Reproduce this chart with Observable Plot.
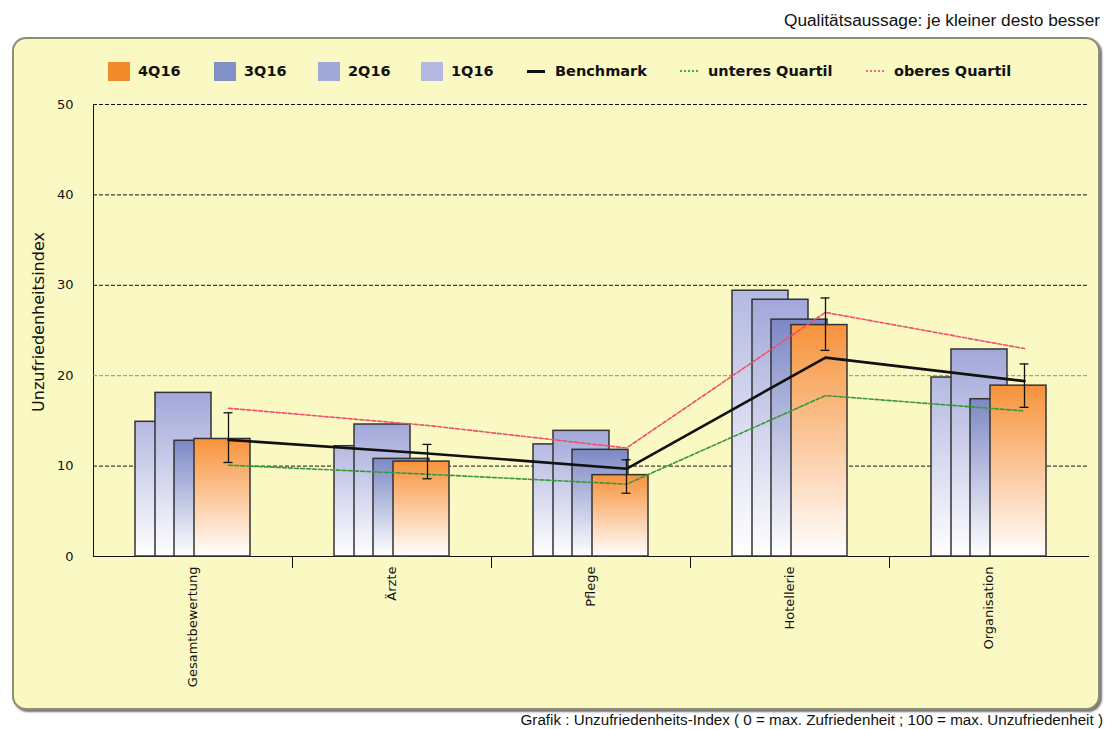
<!DOCTYPE html>
<html><head><meta charset="utf-8">
<script src="https://cdn.jsdelivr.net/npm/d3@7"></script>
<script src="https://cdn.jsdelivr.net/npm/@observablehq/plot@0.6"></script>
<style>
body{margin:0;background:#fff;width:1110px;height:729px;position:relative;overflow:hidden;font-family:"Liberation Sans",Arial,sans-serif}
#title{position:absolute;right:10px;top:10px;font-size:17.3px;color:#111;white-space:nowrap}
#caption{position:absolute;right:7px;top:711px;font-size:15.2px;color:#111;white-space:nowrap}
#frame{position:absolute;left:12px;top:37px;width:1088px;height:673px;box-sizing:border-box;background:#fbf9c3;border:2px solid #8e8e72;border-radius:14px;box-shadow:2px 2px 2px rgba(0,0,0,.55)}
#chart{position:absolute;left:12px;top:88px}
#ylabel{position:absolute;left:38px;top:322px;transform:translate(-50%,-50%) rotate(-90deg);font:16px "DejaVu Sans",sans-serif;color:#111;white-space:nowrap}
.leg{position:absolute;top:61px;height:20px;display:flex;align-items:center;font:bold 14.5px "DejaVu Sans",sans-serif;color:#111;white-space:nowrap}
.sw{width:22px;height:19px;margin-right:8px}
.ln{width:18px;height:0;margin-right:10px}
</style></head>
<body>
<div id="title">Qualitätsaussage: je kleiner desto besser</div>
<div id="frame"></div>
<div id="legend"></div>
<div id="ylabel">Unzufriedenheitsindex</div>
<div id="chart"></div>
<div id="caption">Grafik : Unzufriedenheits-Index ( 0 = max. Zufriedenheit ; 100 = max. Unzufriedenheit )</div>
<script>
const categories = ["Gesamtbewertung", "Ärzte", "Pflege", "Hotellerie", "Organisation"];
const series = ["1Q16", "2Q16", "3Q16", "4Q16"];
const v1Q16 = [14.9, 12.2, 12.4, 29.4, 19.8];
const v2Q16 = [18.1, 14.6, 13.9, 28.4, 22.9];
const v3Q16 = [12.8, 10.8, 11.8, 26.2, 17.4];
const v4Q16 = [13.0, 10.5, 9.0, 25.6, 18.9];
const benchmark = [12.9, 11.4, 9.7, 22.0, 19.4];
const unteresQuartil = [10.1, 9.1, 8.0, 17.8, 16.1];
const oberesQuartil = [16.4, 14.5, 12.0, 27.0, 23.0];
const errLow = [10.4, 8.6, 7.0, 22.8, 16.5];
const errHigh = [15.9, 12.4, 10.7, 28.6, 21.3];
const yTicks = [0, 10, 20, 30, 40, 50];
const seriesValues = [v1Q16, v2Q16, v3Q16, v4Q16];
const seriesColors = ["#b4b9e1", "#a1a7d9", "#7c88c5", "#f7923a"];
const legendColors = {"1Q16": "#b5b9e2", "2Q16": "#a2a8d8", "3Q16": "#8290c8", "4Q16": "#f08a2a"};

// layout
const W = 1088, H = 620, mL = 81, mR = 12, mT = 16, mB = 152;
const bw = (W - mL - mR) / categories.length;
const barOffsets = [42, 62, 81, 101], barW = 56, lineOff = 135, capHalf = 4.5;
const dxLine = lineOff - bw / 2;

const marks = [];
marks.push(Plot.ruleY(yTicks.filter(t => t > 0 && t !== 20), {stroke: "#111", strokeDasharray: "4,2", strokeWidth: 1}));
marks.push(Plot.ruleY(yTicks.filter(t => t === 20), {stroke: "#8a8a80", strokeDasharray: "4,2", strokeWidth: 1}));
series.forEach((s, k) => {
  const rows = categories.map((c, i) => ({category: c, value: seriesValues[k][i]}));
  marks.push(Plot.barY(rows, {
    x: "category", y: "value", fill: `url(#grad${k})`, stroke: "#333", strokeWidth: 1.5,
    insetLeft: barOffsets[k], insetRight: bw - barOffsets[k] - barW
  }));
});
const pts = categories.map((c, i) => ({category: c, b: benchmark[i], u: unteresQuartil[i], o: oberesQuartil[i], lo: errLow[i], hi: errHigh[i]}));
marks.push(Plot.line(pts, {x: "category", y: "u", dx: dxLine, stroke: "#3a963a", strokeWidth: 1.6, strokeDasharray: "4,2"}));
marks.push(Plot.line(pts, {x: "category", y: "o", dx: dxLine, stroke: "#ee4f6a", strokeWidth: 1.6, strokeDasharray: "4,2"}));
marks.push(Plot.line(pts, {x: "category", y: "b", dx: dxLine, stroke: "#111", strokeWidth: 2.6}));
marks.push(Plot.ruleX(pts, {x: "category", y1: "lo", y2: "hi", dx: dxLine, stroke: "#111", strokeWidth: 1.3}));
marks.push(Plot.tickY(pts, {x: "category", y: "hi", stroke: "#111", strokeWidth: 1.3, insetLeft: lineOff - capHalf, insetRight: bw - lineOff - capHalf}));
marks.push(Plot.tickY(pts, {x: "category", y: "lo", stroke: "#111", strokeWidth: 1.3, insetLeft: lineOff - capHalf, insetRight: bw - lineOff - capHalf}));
// category boundary ticks
marks.push(Plot.ruleX(categories.slice(1), {x: d => d, y1: 0, y2: 0, dx: -bw / 2, insetBottom: -12, stroke: "#111", strokeWidth: 1}));

const chart = Plot.plot({
  width: W, height: H, marginLeft: mL, marginRight: mR, marginTop: mT, marginBottom: mB,
  style: {background: "transparent", fontFamily: "DejaVu Sans, sans-serif", fontSize: "13px", color: "#111", overflow: "visible"},
  x: {type: "band", domain: categories, padding: 0, round: false, tickSize: 0, tickPadding: 10, tickRotate: -90, line: true, label: null},
  y: {domain: [0, 50], ticks: yTicks, tickSize: 0, tickPadding: 20, line: true, label: null},
  marks
});
const svg = chart.tagName.toLowerCase() === "svg" ? chart : chart.querySelector("svg");
const ns = "http://www.w3.org/2000/svg";
const defs = document.createElementNS(ns, "defs");
seriesColors.forEach((col, k) => {
  const g = document.createElementNS(ns, "linearGradient");
  g.setAttribute("id", "grad" + k);
  g.setAttribute("x1", "0"); g.setAttribute("y1", "0"); g.setAttribute("x2", "0"); g.setAttribute("y2", "1");
  [[0, col], [1, "#ffffff"]].forEach(([o, c]) => {
    const st = document.createElementNS(ns, "stop");
    st.setAttribute("offset", o); st.setAttribute("stop-color", c);
    g.appendChild(st);
  });
  defs.appendChild(g);
});
svg.insertBefore(defs, svg.firstChild);
document.getElementById("chart").appendChild(chart);

// legend
const legendItems = [
  {label: "4Q16", type: "bar"}, {label: "3Q16", type: "bar"}, {label: "2Q16", type: "bar"}, {label: "1Q16", type: "bar"},
  {label: "Benchmark", type: "line", style: "3px solid #111"},
  {label: "unteres Quartil", type: "line", style: "2px dotted #4aa84a"},
  {label: "oberes Quartil", type: "line", style: "2px dotted #f06a80"}
];
const legendLeft = [108, 214, 318, 421, 527, 680, 866];
const leg = document.getElementById("legend");
legendItems.forEach((it, i) => {
  const d = document.createElement("div");
  d.className = "leg";
  d.style.left = legendLeft[i] + "px";
  const s = document.createElement("span");
  if (it.type === "bar") { s.className = "sw"; s.style.background = legendColors[it.label]; }
  else { s.className = "ln"; s.style.borderTop = it.style; }
  d.appendChild(s);
  const t = document.createElement("span");
  t.textContent = it.label;
  d.appendChild(t);
  leg.appendChild(d);
});
</script>
</body></html>
